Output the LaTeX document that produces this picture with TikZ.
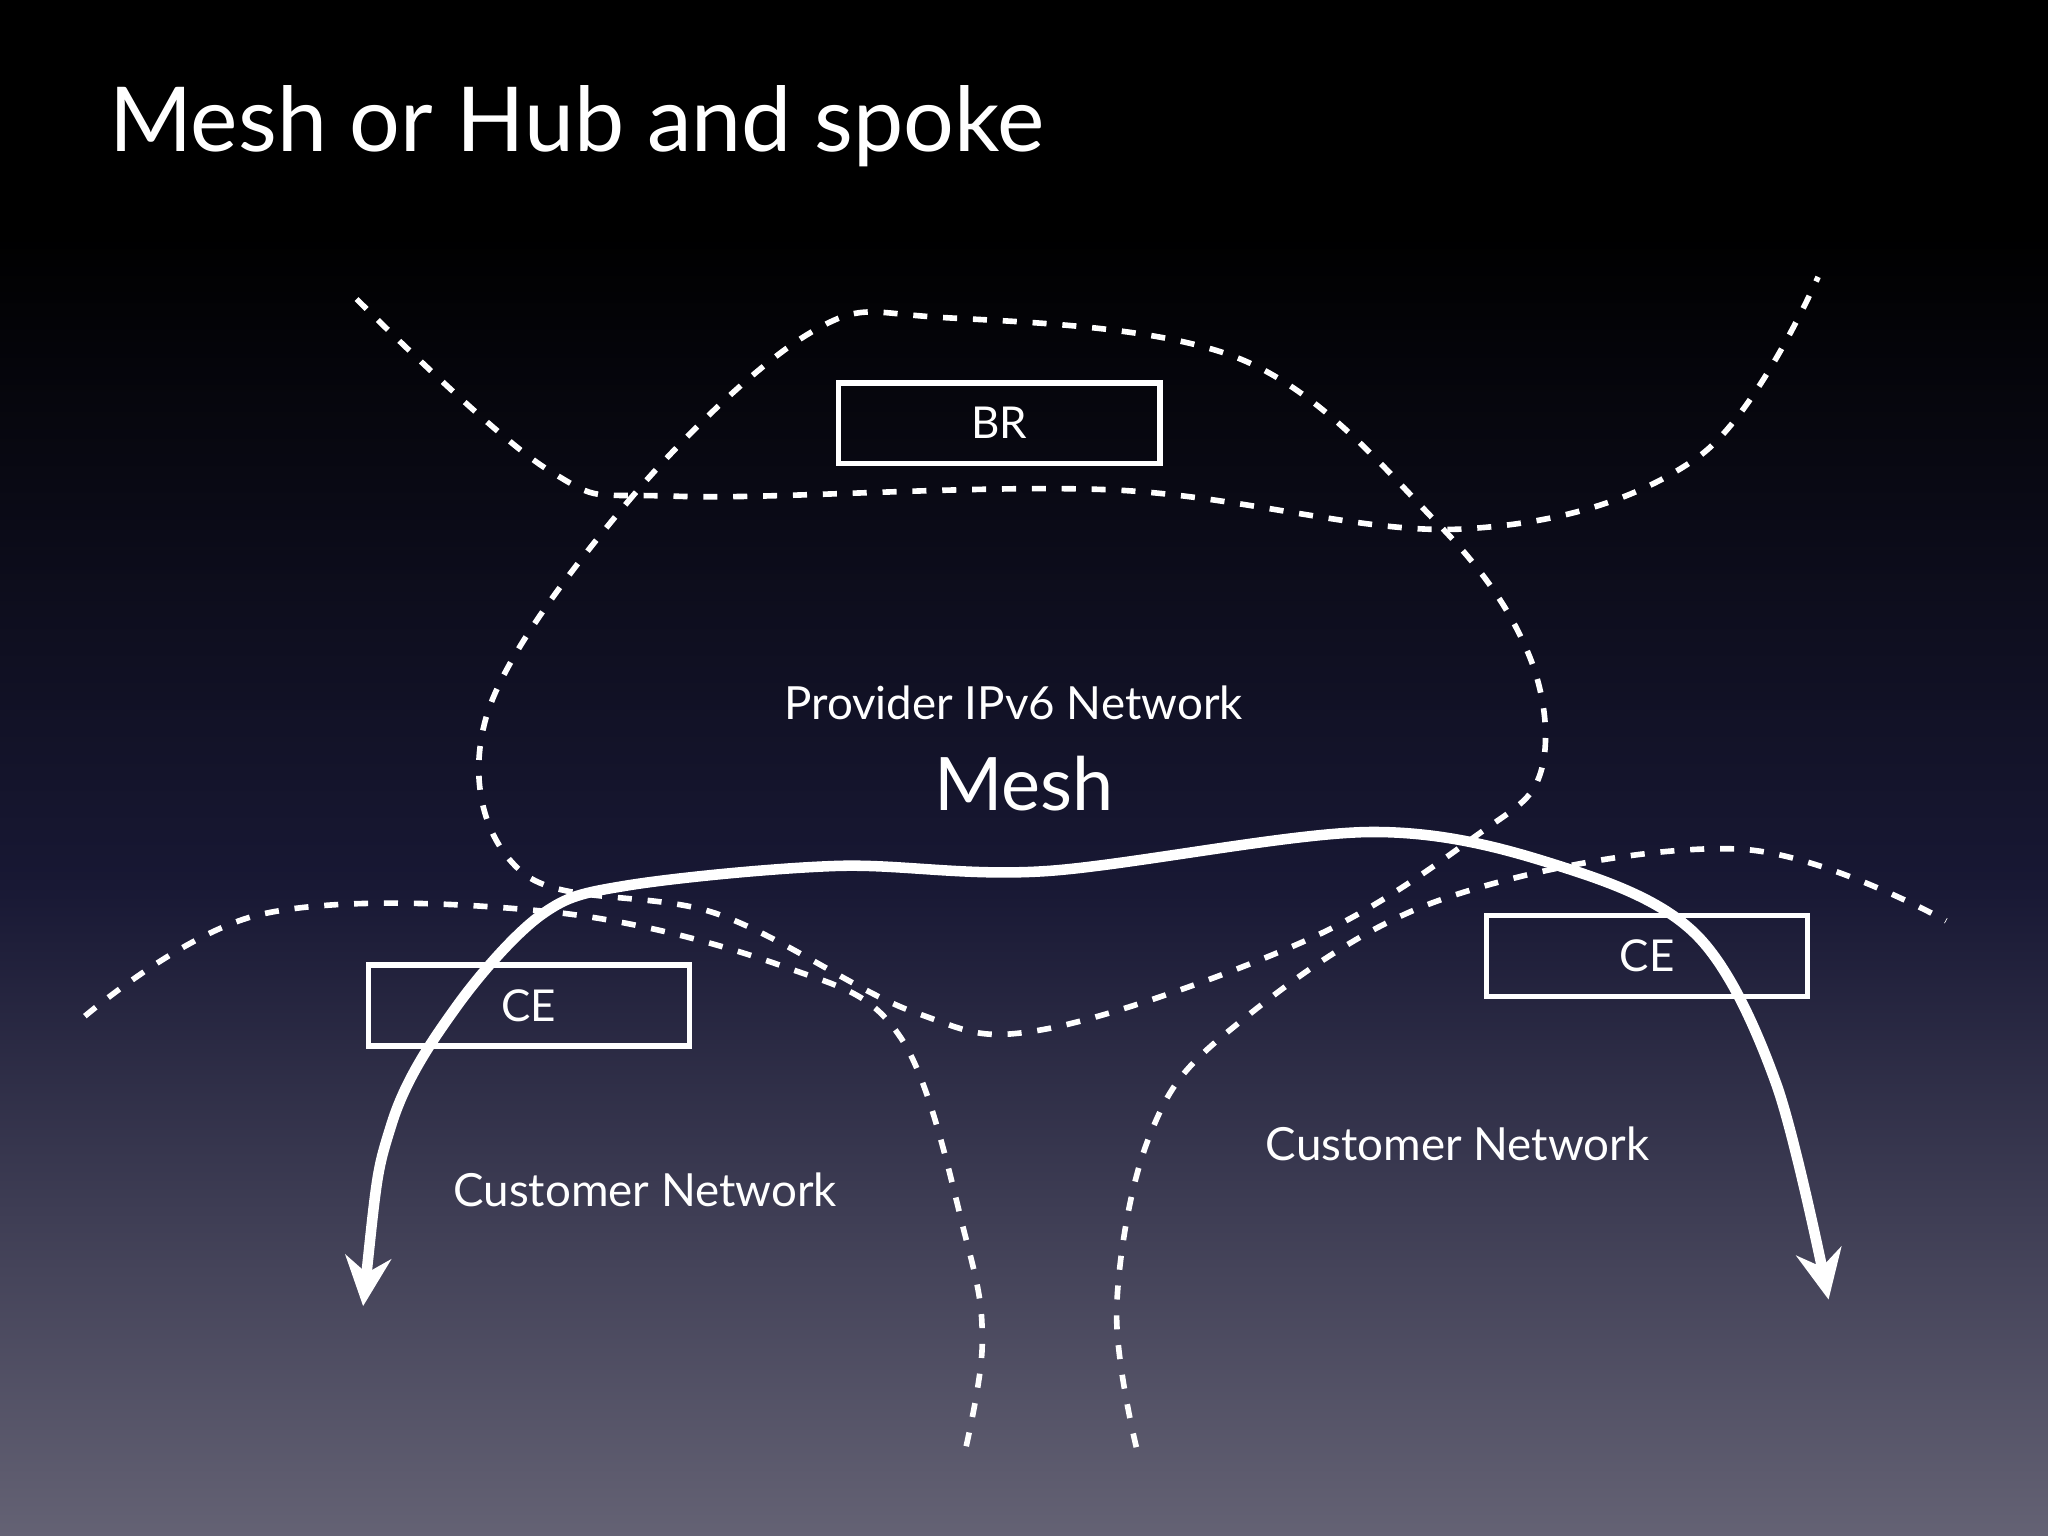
\documentclass[tikz,border=0pt]{standalone}
\usepackage{fontspec}
\setmainfont{Lato}
\usetikzlibrary{arrows.meta}
\definecolor{bgmid}{RGB}{24,24,52}
\definecolor{bgbot}{RGB}{100,98,116}
\begin{document}
\begin{tikzpicture}[x=0.01306cm,y=-0.01306cm,
  dot/.style={white,line width=1.6pt,dash pattern=on 4pt off 4.5pt},
  box/.style={draw=white,line width=1.6pt,minimum width=246*0.01306cm,minimum height=62*0.01306cm,text=white,font=\fontsize{12.5}{15}\selectfont},
  lbl/.style={text=white,font=\fontsize{13}{16}\selectfont}]
\fill[black] (0,0) rectangle (1568,181);
\shade[top color=black,bottom color=bgbot,middle color=bgmid] (0,180) rectangle (1568,1176);
\useasboundingbox (0,0) rectangle (1568,1176);
\node[anchor=base west,text=white,font=\fontsize{25.5}{30}\selectfont] (title) at (74,116) {Mesh or Hub and spoke};
\draw[dot] plot[smooth,tension=0.6] coordinates {(273,229) (420,360) (520,380) (850,375) (1120,405) (1300,350) (1392,212)};
\draw[dot] plot[smooth cycle,tension=0.6] coordinates {(372,550) (480,385) (620,255) (720,243) (950,275) (1100,400) (1170,500) (1180,590) (1130,640) (1000,720) (800,788) (700,775) (550,700) (400,668)};
\draw[dot] plot[smooth,tension=0.6] coordinates {(65,778) (200,700) (420,698) (600,740) (690,795) (740,950) (752,1030) (738,1115)};
\draw[dot] plot[smooth,tension=0.6] coordinates {(870,1108) (855,1000) (880,870) (940,790) (1100,690) (1330,650) (1490,705)};
\node[box] (br) at (765,324) {BR};
\node[box] (ce1) at (405,770) {CE};
\node[box] (ce2) at (1261,732) {CE};
\node[lbl] (prov) at (776,538) {Provider IPv6 Network};
\node[text=white,font=\fontsize{21}{25}\selectfont] (mesh) at (784,600) {Mesh};
\node[lbl] (cn1) at (494,911) {Customer Network};
\node[lbl] (cn2) at (1116,876) {Customer Network};
\draw[white,line width=3pt,{Stealth[length=14pt,width=13pt]}-{Stealth[length=14pt,width=13pt]}] plot[smooth,tension=0.55] coordinates {(278,1000) (300,860) (350,770) (415,700) (480,678) (640,663) (800,667) (1050,637) (1200,665) (1300,717) (1360,830) (1400,995)};
\end{tikzpicture}
\end{document}
